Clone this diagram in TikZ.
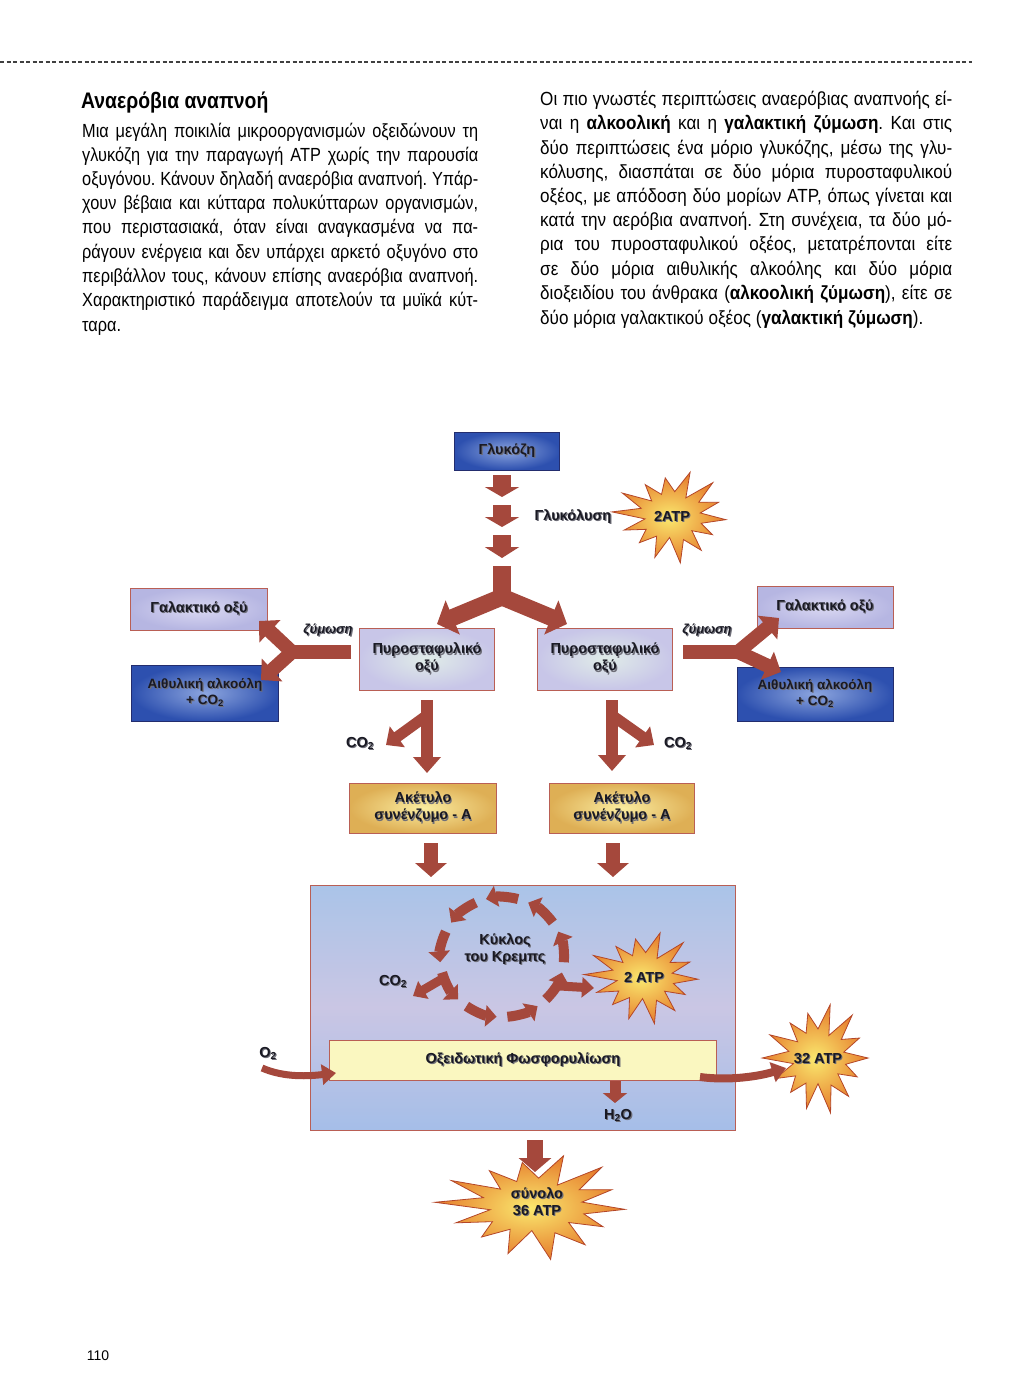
\documentclass[tikz,border=0pt]{standalone}
\usepackage{fontspec}
\setmainfont[FakeStretch=0.86]{Liberation Sans}
\newfontfamily\rcol[FakeStretch=0.9]{Liberation Sans}
\newfontfamily\lab{Liberation Sans}
\newfontfamily\plainf{Liberation Sans}
\frenchspacing
\usetikzlibrary{arrows.meta,calc}
\definecolor{arr}{RGB}{165,72,60}
\definecolor{boxb}{RGB}{185,95,85}
\definecolor{navy}{RGB}{35,45,110}
\definecolor{txt}{RGB}{25,25,35}
\definecolor{shd}{RGB}{110,110,120}
\definecolor{lavin}{RGB}{218,216,242}
\definecolor{lavout}{RGB}{182,182,226}
\definecolor{bluein}{RGB}{140,165,222}
\definecolor{blueout}{RGB}{45,80,175}
\definecolor{pyin}{RGB}{224,236,232}
\definecolor{pyout}{RGB}{200,198,232}
\definecolor{acin}{RGB}{250,236,160}
\definecolor{acout}{RGB}{222,175,85}
\definecolor{bigtop}{RGB}{170,196,232}
\definecolor{bigmid}{RGB}{202,198,228}
\definecolor{bigbot}{RGB}{165,190,232}
\definecolor{oxfill}{RGB}{250,247,192}
\definecolor{burstin}{RGB}{250,232,110}
\definecolor{burstout}{RGB}{230,125,45}
\definecolor{burstb}{RGB}{180,70,40}
\newcommand\sh[1]{\makebox[0pt][l]{\hspace{1.1pt}\raisebox{-1.1pt}{\textcolor{shd}{#1}}}#1}
\newcommand\jline[4]{\node[anchor=base west,inner sep=0pt,font=\fontsize{19}{22}\selectfont] (#1) at (#2) {\makebox[#3][s]{#4}};}
\newcommand\rline[4]{\node[anchor=base west,inner sep=0pt,font=\rcol\fontsize{19}{22}\selectfont] (#1) at (#2) {\makebox[#3][s]{#4}};}
\newcommand\burst[5]{%
  \shadedraw[burstst] plot[variable=\i, samples at={0,...,27}]
   ({#1+#3*ifthenelse(mod(\i,2)==0, 1+0.13*sin(\i*137), 0.55+0.05*cos(\i*71))*cos(\i*360/28+#5)},
    {#2+#4*ifthenelse(mod(\i,2)==0, 1+0.13*sin(\i*137), 0.55+0.05*cos(\i*71))*sin(\i*360/28+#5)}) -- cycle;}
\begin{document}
\begin{tikzpicture}[x=1pt,y=-1pt,
  lbl/.style={font=\lab\bfseries\fontsize{14.5}{17}\selectfont, text=txt, align=center, inner sep=1pt},
  box/.style={lbl, draw=boxb, line width=0.9pt, inner sep=0pt},
  lavbox/.style={box, inner color=lavin, outer color=lavout},
  bluebox/.style={box, draw=navy, inner color=bluein, outer color=blueout},
  pyrbox/.style={box, inner color=pyin, outer color=pyout},
  acbox/.style={box, inner color=acin, outer color=acout},
  farrow/.style n args={3}{draw=arr, line width=#1, -{Triangle[width=#2,length=#3]}},
  shaft/.style={draw=arr, line width=#1},
  burstst/.style={draw=burstb, line width=0.8pt, inner color=burstin, outer color=burstout}]
\path[use as bounding box, fill=white] (0,0) rectangle (1024,1396);

% top dashed rule
\draw[black!75, line width=1.3pt, dash pattern=on 4pt off 2.5pt] (0,62) -- (972,62);

% left column
\node[anchor=base west, inner sep=0pt, font=\bfseries\fontsize{22.5}{26}\selectfont] (title) at (81,109) {Αναερόβια αναπνοή};
\jline{l1}{82,138}{396pt}{Μια μεγάλη ποικιλία μικροοργανισμών οξειδώνουν τη}
\jline{l2}{82,162}{396pt}{γλυκόζη για την παραγωγή ATP χωρίς την παρουσία}
\jline{l3}{82,186}{396pt}{οξυγόνου. Κάνουν δηλαδή αναερόβια αναπνοή. Υπάρ-}
\jline{l4}{82,210}{396pt}{χουν βέβαια και κύτταρα πολυκύτταρων οργανισμών,}
\jline{l5}{82,234}{396pt}{που περιστασιακά, όταν είναι αναγκασμένα να πα-}
\jline{l6}{82,259}{396pt}{ράγουν ενέργεια και δεν υπάρχει αρκετό οξυγόνο στο}
\jline{l7}{82,283}{396pt}{περιβάλλον τους, κάνουν επίσης αναερόβια αναπνοή.}
\jline{l8}{82,307}{396pt}{Χαρακτηριστικό παράδειγμα αποτελούν τα μυϊκά κύτ-}
\node[anchor=base west,inner sep=0pt,font=\fontsize{19}{22}\selectfont] (l9) at (82,331) {ταρα.};

% right column
\rline{r1}{540,106}{412pt}{Οι πιο γνωστές περιπτώσεις αναερόβιας αναπνοής εί-}
\rline{r2}{540,130}{412pt}{ναι η {\bfseries αλκοολική} και η {\bfseries γαλακτική ζύμωση}. Και στις}
\rline{r3}{540,155}{412pt}{δύο περιπτώσεις ένα μόριο γλυκόζης, μέσω της γλυ-}
\rline{r4}{540,179}{412pt}{κόλυσης, διασπάται σε δύο μόρια πυροσταφυλικού}
\rline{r5}{540,203}{412pt}{οξέος, με απόδοση δύο μορίων ATP, όπως γίνεται και}
\rline{r6}{540,227}{412pt}{κατά την αερόβια αναπνοή. Στη συνέχεια, τα δύο μό-}
\rline{r7}{540,251}{412pt}{ρια του πυροσταφυλικού οξέος, μετατρέπονται είτε}
\rline{r8}{540,276}{412pt}{σε δύο μόρια αιθυλικής αλκοόλης και δύο μόρια}
\rline{r9}{540,300}{412pt}{διοξειδίου του άνθρακα ({\bfseries αλκοολική ζύμωση}), είτε σε}
\node[anchor=base west,inner sep=0pt,font=\rcol\fontsize{19}{22}\selectfont] (r10) at (540,324) {δύο μόρια γαλακτικού οξέος ({\bfseries γαλακτική ζύμωση}).};

% ---------- diagram ----------
\node[bluebox, minimum width=105pt, minimum height=38pt] (gluc) at (507,451) {\sh{Γλυκόζη}};

% glycolysis arrows
\coordinate (a1s) at (502,475); \coordinate (a1e) at (502,497);
\coordinate (a2s) at (502,505); \coordinate (a2e) at (502,527);
\coordinate (a3s) at (502,535); \coordinate (a3e) at (502,558);
\coordinate (stem) at (502,566); \coordinate (split) at (502,597);
\draw[farrow={18pt}{34pt}{10pt}] (a1s) -- (a1e);
\draw[farrow={18pt}{34pt}{10pt}] (a2s) -- (a2e);
\draw[farrow={18pt}{34pt}{11pt}] (a3s) -- (a3e);
\draw[shaft=18pt] (stem) -- (split);

\node[lbl] (glyk) at (573,517) {\sh{Γλυκόλυση}};
\burst{672}{516}{54}{42}{5}
\node[lbl] (atp1) at (672,517) {\sh{2ATP}};

% pyruvate boxes
\node[pyrbox, minimum width=135pt, minimum height=62pt] (pyrL) at (427,659) {\sh{Πυροσταφυλικό}\\\sh{οξύ}};
\node[pyrbox, minimum width=135pt, minimum height=62pt] (pyrR) at (605,659) {\sh{Πυροσταφυλικό}\\\sh{οξύ}};
\coordinate (tipL) at (437,624); \coordinate (tipR) at (567,624);
\draw[farrow={17pt}{36pt}{17pt}] (split) -- (tipL);
\draw[farrow={17pt}{36pt}{17pt}] (split) -- (tipR);

% fermentation products
\node[lavbox, minimum width=137pt, minimum height=42pt] (galL) at (199,609) {\sh{Γαλακτικό οξύ}};
\node[bluebox, minimum width=147pt, minimum height=56pt, font=\lab\bfseries\fontsize{13.5}{16}\selectfont] (aitL) at (205,693) {\sh{Αιθυλική αλκοόλη}\\\sh{+ CO\textsubscript{2}}};
\node[lavbox, minimum width=136pt, minimum height=42pt] (galR) at (825,607) {\sh{Γαλακτικό οξύ}};
\node[bluebox, minimum width=156pt, minimum height=54pt, font=\lab\bfseries\fontsize{13.5}{16}\selectfont] (aitR) at (815,694) {\sh{Αιθυλική αλκοόλη}\\\sh{+ CO\textsubscript{2}}};

\coordinate (fL0) at (351,652); \coordinate (fLs) at (288,652);
\coordinate (fLa) at (259,621); \coordinate (fLb) at (261,680);
\draw[shaft=14pt] (fL0) -- (fLs);
\draw[farrow={14pt}{30pt}{15pt}] ($(fLs)+(4,0)$) -- (fLa);
\draw[farrow={14pt}{30pt}{15pt}] ($(fLs)+(4,0)$) -- (fLb);
\node[lbl, font=\lab\bfseries\itshape\fontsize{13}{15}\selectfont] (zymL) at (328,631) {\sh{ζύμωση}};

\coordinate (fR0) at (683,652); \coordinate (fRs) at (742,652);
\coordinate (fRa) at (779,618); \coordinate (fRb) at (781,672);
\draw[shaft=14pt] (fR0) -- (fRs);
\draw[farrow={14pt}{30pt}{15pt}] ($(fRs)+(-4,0)$) -- (fRa);
\draw[farrow={14pt}{30pt}{15pt}] ($(fRs)+(-4,0)$) -- (fRb);
\node[lbl, font=\lab\bfseries\itshape\fontsize{13}{15}\selectfont] (zymR) at (707,631) {\sh{ζύμωση}};

% acetyl CoA
\node[acbox, minimum width=147pt, minimum height=50pt] (acL) at (423,808) {\sh{Ακέτυλο}\\\sh{συνένζυμο - Α}};
\node[acbox, minimum width=145pt, minimum height=50pt] (acR) at (622,808) {\sh{Ακέτυλο}\\\sh{συνένζυμο - Α}};

\node[lbl] (co2L) at (360,744) {\sh{CO\textsubscript{2}}};
\node[lbl] (co2R) at (678,744) {\sh{CO\textsubscript{2}}};
\coordinate (vL0) at (427,700); \coordinate (vL1) at (427,773);
\coordinate (bL0) at (426,716); \coordinate (bL1) at (386,745);
\draw[farrow={12pt}{27pt}{16pt}] (vL0) -- (vL1);
\draw[farrow={11pt}{25pt}{14pt}] (bL0) -- (bL1);
\coordinate (vR0) at (612,700); \coordinate (vR1) at (612,771);
\coordinate (bR0) at (613,716); \coordinate (bR1) at (654,745);
\draw[farrow={12pt}{27pt}{16pt}] (vR0) -- (vR1);
\draw[farrow={11pt}{25pt}{14pt}] (bR0) -- (bR1);

\coordinate (dL0) at (431,843); \coordinate (dL1) at (431,877);
\coordinate (dR0) at (613,843); \coordinate (dR1) at (613,877);
\draw[farrow={14pt}{31pt}{14pt}] (dL0) -- (dL1);
\draw[farrow={14pt}{31pt}{14pt}] (dR0) -- (dR1);

% big mitochondrial box
\node[draw=boxb, line width=0.9pt, minimum width=425pt, minimum height=245pt, inner sep=0pt,
      top color=bigtop, bottom color=bigbot, middle color=bigmid] (big) at (522.5,1007.5) {};

% Krebs cycle
\coordinate (kc) at (502,957);
\foreach \c in {10,50,...,330}
  \draw[farrow={10pt}{21pt}{11pt}] ($(kc)+({-(\c-15)}:62 and 60)$) arc[start angle={-(\c-15)}, end angle={-(\c+15)}, x radius=62, y radius=60];
\node[lbl] (kyk) at (505,950) {\sh{Κύκλος}\\\sh{του Κρεμπς}};
\node[lbl] (co2K) at (393,982) {\sh{CO\textsubscript{2}}};
\coordinate (kL0) at (442,979); \coordinate (kL1) at (413,996);
\draw[farrow={9pt}{20pt}{12pt}] (kL0) -- (kL1);
\burst{644}{977}{54}{42}{3}
\node[lbl] (atp2) at (644,978) {\sh{2 ATP}};
\coordinate (kR0) at (560,986); \coordinate (kR1) at (594,988);
\draw[farrow={9pt}{20pt}{12pt}] (kR0) -- (kR1);

% oxidative phosphorylation
\node[box, fill=oxfill, minimum width=387pt, minimum height=40pt] (ox) at (523,1060) {\sh{Οξειδωτική Φωσφορυλίωση}};
\node[lbl] (o2) at (268,1054) {\sh{O\textsubscript{2}}};
\coordinate (o2s) at (262,1068); \coordinate (o2e) at (336,1073);
\draw[farrow={7pt}{20pt}{14pt}] (o2s) .. controls (285,1078) and (310,1076) .. (o2e);
\burst{818}{1058}{50}{50}{0}
\node[lbl] (atp3) at (818,1059) {\sh{32 ATP}};
\coordinate (p32s) at (700,1077); \coordinate (p32e) at (786,1068);
\draw[farrow={8pt}{20pt}{14pt}] (p32s) .. controls (730,1081) and (760,1076) .. (p32e);
\coordinate (h0) at (615,1081); \coordinate (h1) at (615,1103);
\draw[farrow={11pt}{24pt}{10pt}] (h0) -- (h1);
\node[lbl] (h2o) at (618,1116) {\sh{H\textsubscript{2}O}};

% total
\coordinate (t0) at (535,1140); \coordinate (t1) at (535,1172);
\burst{535}{1206}{90}{48}{4}
\draw[farrow={16pt}{32pt}{14pt}] (t0) -- (t1);
\node[lbl] (tot) at (537,1202) {\sh{σύνολο}\\\sh{36 ATP}};

% page number
\node[font=\plainf\fontsize{14}{16}\selectfont, inner sep=0pt] (pg) at (98,1356) {110};
\end{tikzpicture}
\end{document}
